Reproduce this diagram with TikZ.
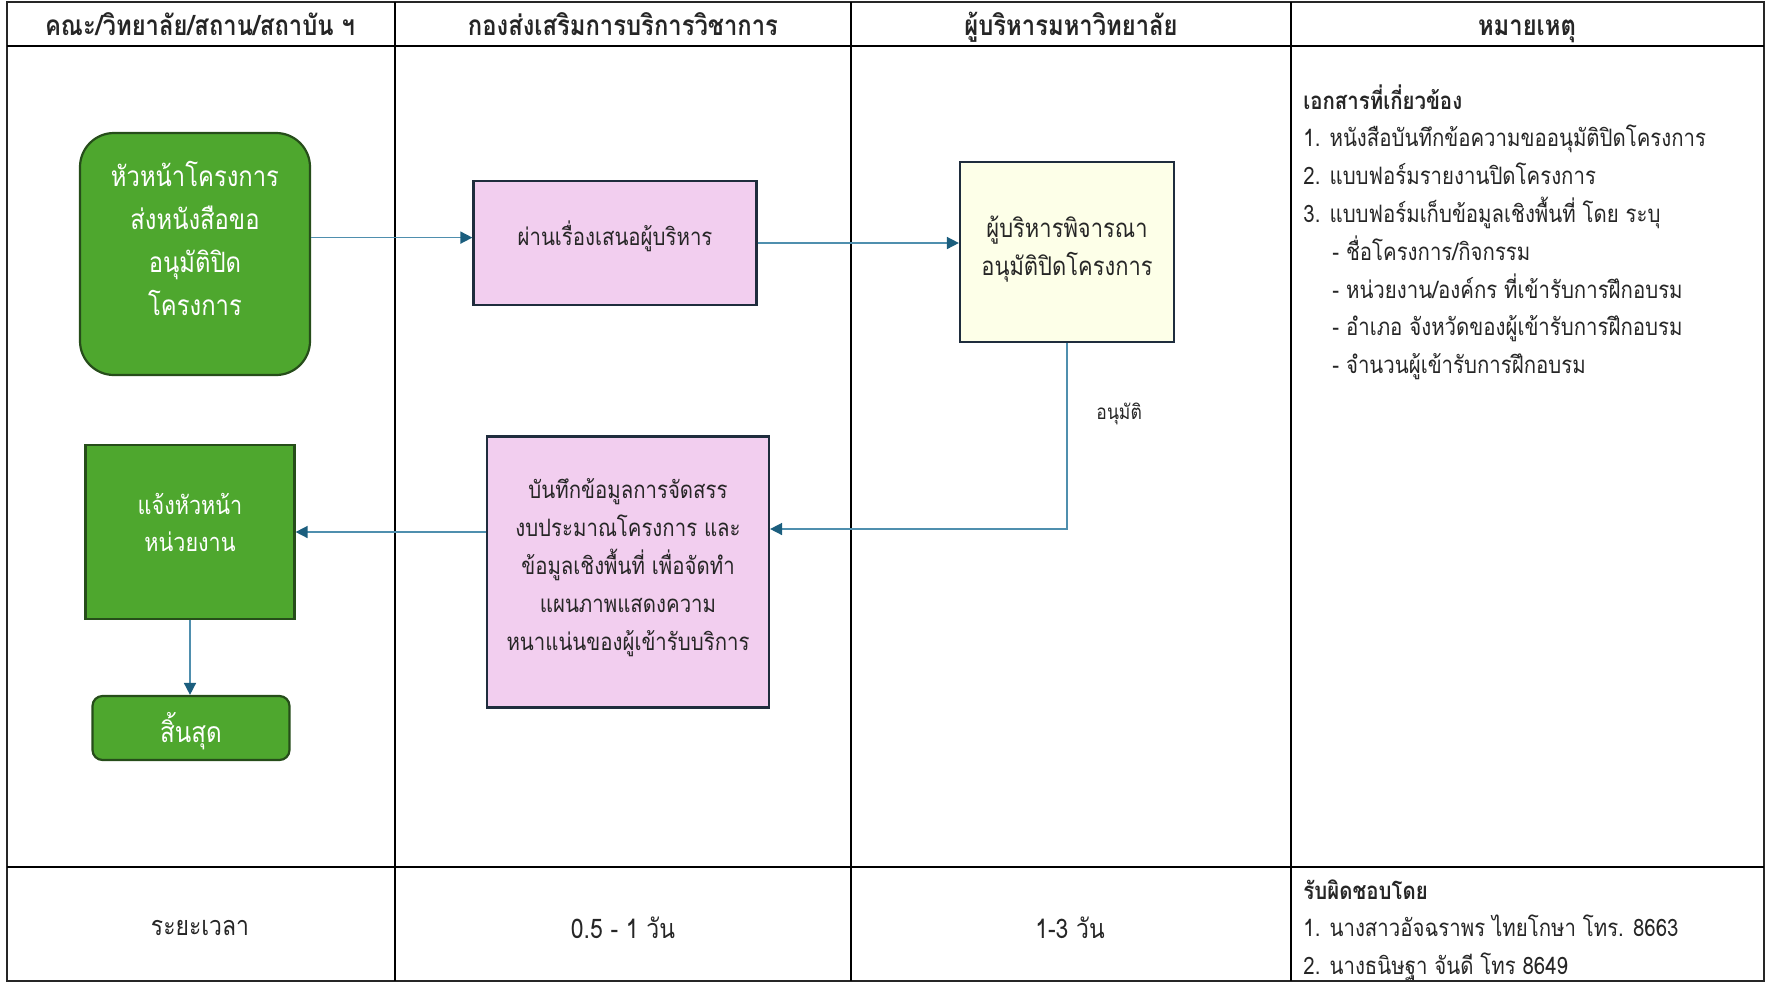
\documentclass[tikz,border=0pt]{standalone}
\usepackage{fontspec}
\setmainfont[Script=Thai, FakeStretch=0.85]{Loma}
\usetikzlibrary{arrows.meta,positioning}

\definecolor{boxgreen}{HTML}{4EA72E}
\definecolor{greenline}{HTML}{264D1A}
\definecolor{boxpink}{HTML}{F2CEEF}
\definecolor{boxivory}{HTML}{FDFFE8}
\definecolor{boxline}{HTML}{1F2D3D}
\definecolor{flowline}{HTML}{4F8FAE}
\definecolor{flowhead}{HTML}{1B5E7E}
\definecolor{textgray}{HTML}{262626}

\newcommand{\padbelow}[1]{\rule[-#1]{0pt}{#1}}

\tikzstyle{greenbox} = [draw=greenline, fill=boxgreen, line width=1.1pt,
    rectangle, text=white, align=center, inner sep=0pt]
\tikzstyle{pinkbox} = [draw=boxline, fill=boxpink, line width=1.1pt,
    rectangle, text=textgray, align=center, inner sep=0pt]
\tikzstyle{ivorybox} = [draw=boxline, fill=boxivory, line width=1.1pt,
    rectangle, text=textgray, align=center, inner sep=0pt]
\tikzstyle{flow} = [draw=flowline, line width=0.8pt,
    -{Triangle[length=6pt,width=6pt,color=flowhead]}]
\tikzstyle{headtext} = [font=\bfseries\fontsize{14}{16}\selectfont, text=textgray, anchor=base]
\tikzstyle{celltext} = [font=\fontsize{13.5}{16}\selectfont, text=textgray]
\tikzstyle{notetext} = [font=\fontsize{12}{18.9}\selectfont, text=textgray,
    align=left, anchor=north west, inner sep=0pt]

\begin{document}
\begin{tikzpicture}[x=0.5pt, y=-0.5pt]
    \useasboundingbox (0,0) rectangle (1766,982);
%------------ Tabelle ---------------------
    \draw[line width=1pt, draw=black!85] (7,2) rectangle (1764,981);
    \draw[line width=0.8pt] (7,46) -- (1764,46);
    \draw[line width=0.8pt] (7,867) -- (1764,867);
    \foreach \colx in {395,851,1291}
        \draw[line width=0.8pt] (\colx,2) -- (\colx,981);

    \node[headtext] (head1) at (200,35) {คณะ/วิทยาลัย/สถาน/สถาบัน ฯ};
    \node[headtext] (head2) at (623,35) {กองส่งเสริมการบริการวิชาการ};
    \node[headtext] (head3) at (1071,35) {ผู้บริหารมหาวิทยาลัย};
    \node[headtext] (head4) at (1527,35) {หมายเหตุ};

%------------ Ablauf ---------------------
    \node[greenbox, minimum width=115pt, minimum height=121pt, rounded corners=17pt,
        font=\fontsize{14}{21.5}\selectfont] (start) at (195,254)
        {หัวหน้าโครงการ\\ส่งหนังสือขอ\\อนุมัติปิด\\โครงการ\padbelow{16pt}};
    \node[pinkbox, minimum width=141.5pt, minimum height=62pt,
        font=\fontsize{12}{14}\selectfont] (pass) at (615,243)
        {ผ่านเรื่องเสนอผู้บริหาร\padbelow{9.5pt}};
    \node[ivorybox, minimum width=107pt, minimum height=90pt,
        font=\fontsize{12.9}{19}\selectfont] (consider) at (1067,252)
        {ผู้บริหารพิจารณา\\อนุมัติปิดโครงการ\padbelow{6pt}};
    \node[pinkbox, minimum width=141pt, minimum height=135.5pt,
        font=\fontsize{12}{18.9}\selectfont] (record) at (628,572)
        {บันทึกข้อมูลการจัดสรร\\งบประมาณโครงการ และ\\ข้อมูลเชิงพื้นที่ เพื่อจัดทำ\\แผนภาพแสดงความ\\หนาแน่นของผู้เข้ารับบริการ\padbelow{7.5pt}};
    \node[greenbox, minimum width=104.5pt, minimum height=87pt,
        font=\fontsize{12.7}{18.5}\selectfont] (inform) at (190,532)
        {แจ้งหัวหน้า\\หน่วยงาน\padbelow{9.5pt}};
    \node[greenbox, minimum width=98.5pt, minimum height=32pt, rounded corners=5pt,
        font=\fontsize{14.2}{16}\selectfont] (finish) at (191,728)
        {\rule{0pt}{18pt}สิ้นสุด};

    \draw[flow] ([yshift=2.7pt]start.east |- pass.west) -- ([yshift=2.7pt]pass.west);
    \draw[flow] (pass) -- (pass -| consider.west);
    \draw[flow] (consider.south) |- ([yshift=21.5pt]record.east)
        node[pos=0.19, right=11pt, celltext, font=\fontsize{10.3}{12}\selectfont] (approve) {อนุมัติ};
    \draw[flow] (record.west |- inform) -- (inform);
    \draw[flow] (inform) -- (inform |- finish.north);

%------------ Hinweise ---------------------
    \node[notetext] (docs) at (1303,84)
        {\textbf{เอกสารที่เกี่ยวข้อง}\\
        1. หนังสือบันทึกข้อความขออนุมัติปิดโครงการ\\
        2. แบบฟอร์มรายงานปิดโครงการ\\
        3. แบบฟอร์มเก็บข้อมูลเชิงพื้นที่ โดย ระบุ\\
        \hspace*{14.5pt}- ชื่อโครงการ/กิจกรรม\\
        \hspace*{14.5pt}- หน่วยงาน/องค์กร ที่เข้ารับการฝึกอบรม\\
        \hspace*{14.5pt}- อำเภอ จังหวัดของผู้เข้ารับการฝึกอบรม\\
        \hspace*{14.5pt}- จำนวนผู้เข้ารับการฝึกอบรม};

%------------ Zeitdauer ---------------------
    \node[celltext] (time1) at (200,928) {ระยะเวลา};
    \node[celltext] (time2) at (623,928) {0.5 - 1 วัน};
    \node[celltext] (time3) at (1070,928) {1-3 วัน};
    \node[notetext] (staff) at (1303,879)
        {\textbf{รับผิดชอบโดย}\\
        1. นางสาวอัจฉราพร ไทยโกษา โทร. 8663\\
        2. นางธนิษฐา จันดี โทร 8649};
\end{tikzpicture}
\end{document}
